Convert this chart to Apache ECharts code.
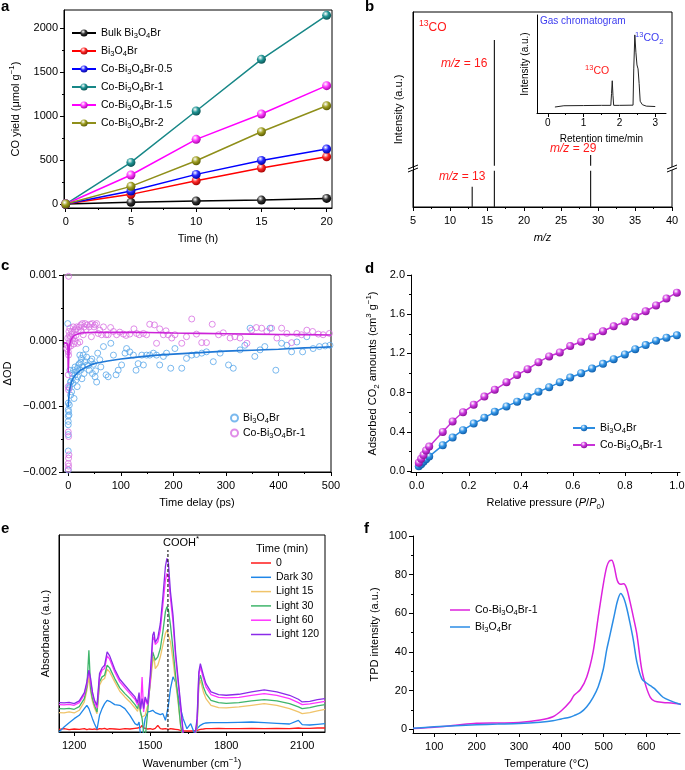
<!DOCTYPE html>
<html><head><meta charset="utf-8">
<script src="https://cdn.jsdelivr.net/npm/echarts@6/dist/echarts.min.js"></script>
<style>html,body{margin:0;padding:0;background:#fff}#c{width:685px;height:770px}</style>
</head><body><div id="c"></div>
<script>
// ================= DATA =================
// (a) CO yield vs time
const timeH = [0, 5, 10, 15, 20];
const yBulk = [0, 19, 34, 45, 64];
const yBi = [0, 110, 265, 409, 538];
const yCo05 = [0, 148, 337, 496, 625];
const yCo1 = [0, 473, 1057, 1644, 2144];
const yCo15 = [0, 330, 735, 1023, 1345];
const yCo2 = [0, 201, 492, 822, 1117];
const aTicks = [0, 500, 1000, 1500, 2000];
const aTimeTicks = [0, 5, 10, 15, 20];

// (b) mass spectrum (a.u., broken axis) and inset chromatogram
const mzPeaks = [13, 16, 29];
const mzIntensity = [10.4, 85.6, 26.7];
const breakLo = 18.6, breakHi = 21.2;
const mzTicks = [5, 10, 15, 20, 25, 30, 35, 40];
const gcTime = [0.2, 0.45, 1.0, 1.5, 1.76, 1.78, 1.8, 1.82, 1.84, 2.0, 2.38, 2.40, 2.43, 2.46, 2.49, 2.52, 2.55, 2.58, 2.64, 2.75, 3.0];
const gcSignal = [6.1, 7.4, 7.6, 7.8, 7.8, 20, 32.9, 18, 7.8, 7.8, 8.0, 45, 79.7, 62, 49, 45, 30, 12, 8.5, 7.0, 6.6];
const gcTicks = [0, 1, 2, 3];

// (c) transient absorption, ΔOD in units of 1e-4
const tBi = [-1,0,0,0,0,0,0,0,0,0.6,1.3,2,3,3,4.4,4.4,5,6.3,8,10,11,12.7,14.6,16,17,17.8,19.7,21,22,23.5,25,27,28.5,30,32,33.6,36,40,42.5,46,51,54,56,60,62,67,72,76,81,86,91,95,101.5,108,111,117,124,129,133,140,143,149,155,162,168,174,181,187,195,203,216,225,235,244,254,263,276,289,305,314,327,336,346,355,365,374,384,395,406,416,425,435,446,454,466,478,489,498,2,7,9,13,18,24,26,35,38,45,48,52];
const odBi = [2.6,-9.5,-10.5,-11.5,-12.3,-12.8,-14.3,-16.8,-19.7,-10.8,-11.3,-9.8,-6.8,-4.5,-6.3,-8.3,-6.2,-7.8,-5.7,-4.5,-8.8,-5.2,-6,-4.7,-7,-4.2,-3.7,-3.5,-2.2,-4.5,-2.7,-4,-2.2,-5,-3.2,-1.3,-3.7,-4.5,-3.1,-5,-5.5,-6.3,-1.9,-2.9,-4,-0.9,-5.2,-5.5,-0.4,-2.2,-5.2,-4.5,-3.7,-1.9,-1.2,-1.7,-2.2,-4.5,-3.5,-2.2,-3.7,-2.2,-2.2,-1.9,-2.2,-3.7,-2.4,-1.9,-4.2,-1.2,-4.2,-2.7,-2.2,-2.1,-1.9,-1.7,-3.2,-1.9,-3.7,-4.2,-1.4,-0.7,1.9,-2.4,-1.4,-0.9,1.9,-4.5,-0.4,-0.7,-1.7,-0.2,-1.7,0.6,-1.2,-0.9,-0.8,-0.7,-7.2,-5,-6.5,-4,-5.5,-3.3,-5.8,-2.5,-3.8,-2.8,-3.6,-4.6];
const tCo = [0.6,-3,-2,-1,0,0.6,1.3,2,0,0,0.6,0,0.6,1.3,0.6,0,0.6,0,3,4.4,6.3,8,9.5,11,12.7,14.6,16,17.8,19,21,22,24,25,27,28.5,30.5,32,34,36,40,42.5,44,46,49,51,54,57,60,63.5,67,72,76,80.6,86,92,98,105,110,117,125,130,135,143,149,155,164,168,174,181,186,190,197,203,216,225,235,244,254,263,274,286,295,308,317,327,340,349,358,368,378,387,397,406,416,425,435,444,454,465,476,485,497,1,2,3,5,7,10,13,15];
const odCo = [9.8,-1.2,-0.7,0.4,-1.7,-2.2,1.4,0.8,-5.2,-7,-7.5,-13.9,-14.6,-17.4,-17.9,-18.7,-19.1,-19.6,1.9,0.6,1.4,0.2,2.1,-0.5,1.6,0.8,2.1,-0.4,1.6,2.1,-0.2,2.4,1.4,2.6,0.9,2.1,2.6,1.7,2.4,2.1,2.5,0.6,2.6,2.1,2.4,2.6,1.1,1.6,0.9,2.1,0.9,0.9,2.0,1.4,0.9,1.3,1.0,0.8,1.0,1.8,1.1,0.9,1.1,0.9,2.5,2.4,-0.4,1.8,0.9,1.5,0.9,0.4,0.9,-0.4,0.6,3.3,1.0,-0.3,-0.3,2.5,0.9,1.2,0.4,0.6,0.4,-0.4,1.6,2.0,1.9,1.4,1.9,0.4,1.9,1.1,-0.3,1.1,0.9,1.6,1.4,1.0,0.9,1.1,-1.0,-0.3,0.3,-0.8,1.0,0.5,-0.1,1.8];
const fitTBi = [0, 1, 2, 3, 5, 7, 10, 15, 20, 30, 40, 50, 75, 100, 150, 200, 250, 300, 350, 400, 450, 500];
const fitBi = [-10.1, -8.8, -8.0, -7.4, -6.6, -6.1, -5.6, -5.1, -4.7, -4.2, -3.8, -3.5, -3.1, -2.8, -2.35, -2.05, -1.82, -1.6, -1.45, -1.3, -1.1, -0.95];
const fitTCo = [-8, -1, 0, 1, 2, 3, 5, 8, 12, 20, 30, 50, 100, 150, 200, 300, 400, 500];
const fitCo = [-0.3, -0.6, -4.8, -2.5, -1.2, -0.5, 0.1, 0.5, 0.8, 1.05, 1.2, 1.27, 1.27, 1.24, 1.17, 1.05, 0.95, 0.87];
const cTimeTicks = [0, 100, 200, 300, 400, 500];
const cOdTicks = [-0.002, -0.001, 0, 0.001];

// (d) CO2 adsorption isotherms
const relP = [0.008,0.017,0.026,0.036,0.048,0.10,0.138,0.178,0.219,0.26,0.30,0.345,0.386,0.426,0.468,0.509,0.55,0.59,0.632,0.674,0.716,0.757,0.80,0.84,0.88,0.92,0.96,1.0];
const adsBi = [0.05,0.07,0.096,0.12,0.15,0.263,0.342,0.417,0.485,0.544,0.605,0.66,0.708,0.759,0.81,0.855,0.906,0.954,0.998,1.046,1.094,1.142,1.19,1.244,1.285,1.33,1.36,1.385];
const adsCo = [0.085,0.126,0.164,0.21,0.25,0.40,0.506,0.60,0.677,0.76,0.83,0.906,0.98,1.04,1.11,1.17,1.21,1.275,1.32,1.37,1.426,1.477,1.525,1.573,1.63,1.69,1.76,1.82];
const dPTicks = [0, 0.2, 0.4, 0.6, 0.8, 1.0];
const dAdsTicks = [0, 0.4, 0.8, 1.2, 1.6, 2.0];

// (e) in-situ FTIR (absorbance, a.u.)
const wn = [1140,1160,1180,1200,1220,1240,1250,1258,1265,1272,1280,1290,1300,1310,1320,1330,1340,1360,1380,1400,1420,1440,1450,1456,1462,1468,1474,1480,1490,1500,1510,1515,1520,1530,1540,1550,1560,1566,1572,1580,1590,1600,1610,1620,1630,1645,1660,1675,1685,1692,1698,1710,1720,1740,1770,1800,1850,1900,1950,2000,2050,2085,2100,2130,2160,2190];
const abs0 = [8,10,7,9,8,10,7,9,10,8,9,7,10,9,11,8,10,9,8,10,9,11,12,10,14,20,12,10,9,10,8,9,11,20,10,9,10,9,8,10,9,8,7,5,4,3,3,4,5,6,8,9,10,10,11,10,10,11,10,11,10,12,11,11,12,12];
const absDark30 = [0,15,28,40,50,70,80,70,55,40,25,8,50,70,85,95,92,82,80,70,50,25,20,30,-10,-20,10,40,60,62,65,60,58,55,52,55,35,40,80,130,165,150,110,70,40,10,25,-5,10,5,20,25,27,28,28,28,29,30,28,26,24,35,22,21,23,25];
const absLight15 = [58,57,60,57,65,90,125,165,120,92,72,55,140,155,160,188,180,150,122,105,90,72,62,80,55,45,40,50,80,140,210,225,190,200,225,260,295,305,300,270,215,150,90,20,-20,-30,-30,-20,15,140,155,120,100,80,73,72,75,80,85,80,70,60,55,58,63,68];
const absLight30 = [70,69,71,68,76,100,135,245,130,100,80,60,150,165,170,200,192,160,132,115,100,82,70,90,60,40,0,-20,60,150,240,245,215,225,250,300,360,375,365,320,250,170,100,20,-20,-30,-30,-20,20,150,170,135,115,95,88,86,88,93,97,93,85,75,70,73,78,82];
const absLight60 = [82,81,83,80,88,112,145,182,150,115,90,72,165,185,190,228,218,180,150,132,115,98,82,100,70,165,60,100,80,150,275,285,262,270,305,380,455,475,465,400,330,225,150,75,-10,-30,-30,-20,30,170,195,160,135,112,104,102,104,110,115,110,100,88,82,84,88,92];
const absLight120 = [88,87,89,85,93,118,150,185,160,120,95,80,175,192,200,240,228,188,158,140,122,105,88,118,68,100,70,105,85,170,290,300,268,282,325,405,495,520,505,420,350,240,160,85,0,-30,-30,-20,40,180,205,170,145,120,112,110,113,120,126,120,110,98,90,92,97,100];
const coohWn = 1570, coohTop = 545;
const wnTicks = [1200, 1500, 1800, 2100];

// (f) CO2-TPD
const tempF = [50,100,150,200,250,300,350,380,400,420,430,445,460,475,487,499,507,513,519,525,532,540,547,554,562,570,578,590,600,610,620,640,660,682];
const tpdCo = [0.3,1.0,2.0,3.0,3.2,3.4,4.7,6.4,9.5,14,17.5,20.5,27,40,58,75,84,87,87.5,84,77,75,75.3,73,66,58,49.5,30.5,22,16.5,14.5,13.8,13.5,13];
const tpdBi = [0.4,1.2,1.8,2.3,2.6,2.9,3.6,4.3,5.3,6.2,7,8.5,11.6,16.5,22,31,41,47,53,59,66,70.2,68,63,55,46,35,26,24,22.5,21,16.5,14.5,12.7];
const tempTicks = [100, 200, 300, 400, 500, 600];
const tpdTicks = [0, 20, 40, 60, 80, 100];

// ================= HELPERS =================
const FF = '"Liberation Sans", Arial, Helvetica, sans-serif';
function richC(size, color) {
  return {
    sub: {fontSize: size * 0.72, lineHeight: 8, verticalAlign: 'bottom', fontFamily: FF, color: color},
    sup: {fontSize: size * 0.72, lineHeight: 8, verticalAlign: 'top', fontFamily: FF, color: color},
    it: {fontStyle: 'italic', fontSize: size, fontFamily: FF, color: color}
  };
}
function txt(size, color) {
  return {fontSize: size, color: color, fontFamily: FF, lineHeight: Math.round(size * 1.45), rich: richC(size, color)};
}
function richZ(size, fill) {
  return {
    sub: {fontSize: size * 0.72, lineHeight: 8, verticalAlign: 'bottom', fontFamily: FF, fill: fill},
    sup: {fontSize: size * 0.72, lineHeight: 8, verticalAlign: 'top', fontFamily: FF, fill: fill},
    it: {fontStyle: 'italic', fontSize: size, fontFamily: FF, fill: fill}
  };
}
function label(text, left, top, size, fill, extra) {
  return Object.assign({type: 'text', left: left, top: top, z: 50,
    style: {text: text, fontSize: size, fontFamily: FF, fill: fill, lineHeight: Math.round(size * 1.45), rich: richZ(size, fill)}}, extra || {});
}
const fmtName = {
  'Bi3O4Br': 'Bi{sub|3}O{sub|4}Br',
  'Bulk Bi3O4Br': 'Bulk Bi{sub|3}O{sub|4}Br',
  'Co-Bi3O4Br-0.5': 'Co-Bi{sub|3}O{sub|4}Br-0.5',
  'Co-Bi3O4Br-1': 'Co-Bi{sub|3}O{sub|4}Br-1',
  'Co-Bi3O4Br-1.5': 'Co-Bi{sub|3}O{sub|4}Br-1.5',
  'Co-Bi3O4Br-2': 'Co-Bi{sub|3}O{sub|4}Br-2'
};
function legendFmt(n) { const s = n.replace(/^[a-f]:/, ''); return fmtName[s] || s; }

const xAxes = [], yAxes = [];
function axis(list, o) {
  const idx = list.length;
  const hasMajor = !!(o.major && o.major.length);
  list.push({
    type: 'value', gridIndex: o.grid, min: o.min, max: o.max, position: o.pos,
    axisLine: {show: true, onZero: false, lineStyle: {color: '#000', width: 1}},
    axisTick: {show: hasMajor, customValues: o.major || [], length: 4, inside: false, lineStyle: {color: '#000', width: 1}},
    axisLabel: Object.assign({show: hasMajor && o.labels !== false, customValues: o.major || [], formatter: o.fmt || (v => String(v)), margin: o.margin == null ? 6 : o.margin}, txt(o.fs || 11, '#000')),
    splitLine: {show: false},
    name: o.name || '', nameLocation: 'middle', nameGap: o.nameGap || 25,
    nameTextStyle: txt(o.nfs || 11, '#000')
  });
  if (o.minor) {
    list.push({type: 'value', gridIndex: o.grid, min: o.min, max: o.max, position: o.pos,
      axisLine: {show: false, onZero: false}, axisTick: {show: true, customValues: o.minor, length: 2, lineStyle: {color: '#000', width: 1}},
      axisLabel: {show: false}, splitLine: {show: false}});
  }
  return idx;
}
function sphere(c, dark) {
  return {type: 'radial', x: 0.38, y: 0.32, r: 0.72, colorStops: [{offset: 0, color: '#ffffff'}, {offset: 0.45, color: c}, {offset: 1, color: dark}]};
}
const zip = (xs, ys, k) => xs.map((x, i) => [x, ys[i] * (k || 1)]);

// ================= GRIDS =================
const grids = [
  {left: 64, top: 10, width: 268, height: 198, show: true, borderColor: '#000', borderWidth: 1, backgroundColor: 'transparent'},
  {left: 413, top: 12, width: 259, height: 195, show: true, borderColor: '#000', borderWidth: 1, backgroundColor: 'transparent'},
  {left: 537, top: 15, width: 129, height: 98},
  {left: 63, top: 275, width: 268, height: 197, show: true, borderColor: '#000', borderWidth: 1, backgroundColor: 'transparent'},
  {left: 411, top: 275, width: 269, height: 197},
  {left: 59, top: 535, width: 266, height: 197, show: true, borderColor: '#000', borderWidth: 1, backgroundColor: 'transparent'},
  {left: 413, top: 536, width: 267, height: 197}
].map(g => Object.assign({outerBoundsMode: 'none', containLabel: false}, g));

// axes
const axA = axis(xAxes, {grid: 0, min: -0.13, max: 20.41, major: aTimeTicks, minor: [2.5, 7.5, 12.5, 17.5], name: 'Time (h)', nameGap: 22, pos: 'bottom'});
const ayA = axis(yAxes, {grid: 0, min: -45, max: 2205, major: aTicks, minor: [250, 750, 1250, 1750], name: 'CO yield (μmol g{sup|−1})', nameGap: 40, pos: 'left'});
const axB = axis(xAxes, {grid: 1, min: 5, max: 40, major: mzTicks, minor: [7.5, 12.5, 17.5, 22.5, 27.5, 32.5, 37.5], name: '{it|m/z}', nameGap: 22, pos: 'bottom'});
const ayB = axis(yAxes, {grid: 1, min: 0, max: 100, name: 'Intensity (a.u.)', nameGap: 6, pos: 'left'});
const axBi = axis(xAxes, {grid: 2, min: -0.3, max: 3.3, major: gcTicks, minor: [0.5, 1.5, 2.5], name: 'Retention time/min', nameGap: 10, fs: 10, nfs: 10, margin: 3, pos: 'bottom'});
const ayBi = axis(yAxes, {grid: 2, min: 0, max: 100, name: 'Intensity (a.u.)', nameGap: 4, nfs: 10, pos: 'left'});
const axC = axis(xAxes, {grid: 3, min: -10, max: 500, major: cTimeTicks, minor: [50, 150, 250, 350, 450], name: 'Time delay (ps)', nameGap: 23, pos: 'bottom'});
const ayC = axis(yAxes, {grid: 3, min: -0.002, max: 0.001, major: cOdTicks, minor: [-0.0015, -0.0005, 0.0005], name: 'ΔOD', nameGap: 47, pos: 'left',
  fmt: v => (v < -1e-9 ? '−' : '') + Math.abs(v).toFixed(3)});
const axD = axis(xAxes, {grid: 4, min: -0.022, max: 1.012, major: dPTicks, minor: [0.1, 0.3, 0.5, 0.7, 0.9], name: 'Relative pressure ({it|P}/{it|P}{sub|0})', nameGap: 23, pos: 'bottom', fmt: v => v.toFixed(1)});
const ayD = axis(yAxes, {grid: 4, min: -0.009, max: 2.0, major: dAdsTicks, minor: [0.2, 0.6, 1.0, 1.4, 1.8], name: 'Adsorbed CO{sub|2} amounts (cm{sup|3} g{sup|−1})', nameGap: 30, pos: 'left', fmt: v => v.toFixed(1)});
const axE = axis(xAxes, {grid: 5, min: 1140, max: 2190, major: wnTicks, minor: [1350, 1650, 1950], name: 'Wavenumber (cm{sup|−1})', nameGap: 24, pos: 'bottom'});
const ayE = axis(yAxes, {grid: 5, min: 0, max: 590, name: 'Absorbance (a.u.)', nameGap: 5, pos: 'left'});
const axF = axis(xAxes, {grid: 6, min: 50, max: 680, major: tempTicks, minor: [150, 250, 350, 450, 550, 650], name: 'Temperature (°C)', nameGap: 22, pos: 'bottom'});
const ayF = axis(yAxes, {grid: 6, min: -2, max: 100, major: tpdTicks, minor: [10, 30, 50, 70, 90], name: 'TPD intensity (a.u.)', nameGap: 30, pos: 'left'});

// ================= SERIES =================
const series = [];
const aDefs = [
  ['a:Bulk Bi3O4Br', yBulk, '#000000', '#333333', '#000000'],
  ['a:Bi3O4Br', yBi, '#ff0000', '#ff2a2a', '#a00000'],
  ['a:Co-Bi3O4Br-0.5', yCo05, '#0000ff', '#2a2aff', '#00009a'],
  ['a:Co-Bi3O4Br-1', yCo1, '#178787', '#1f9494', '#0a4e4e'],
  ['a:Co-Bi3O4Br-1.5', yCo15, '#ff00ff', '#ff3cff', '#a000a0'],
  ['a:Co-Bi3O4Br-2', yCo2, '#8f8f1a', '#a0a024', '#565600']
];
aDefs.forEach(d => series.push({type: 'line', name: d[0], xAxisIndex: axA, yAxisIndex: ayA, data: zip(timeH, d[1]),
  symbol: 'circle', symbolSize: 9, showSymbol: true, lineStyle: {color: d[2], width: 1.5},
  itemStyle: {color: sphere(d[3], d[4])}, z: 3}));

// (b) sticks with break
const stick = [];
mzPeaks.forEach((m, i) => {
  const h = mzIntensity[i];
  if (h > breakHi) stick.push([m, 0], [m, breakLo], [m, '-'], [m, breakHi], [m, h], [m, '-']);
  else stick.push([m, 0], [m, h], [m, '-']);
});
series.push({type: 'line', name: 'b:ms', xAxisIndex: axB, yAxisIndex: ayB, data: stick, symbol: 'none', connectNulls: false,
  lineStyle: {color: '#222', width: 1.2}});
series.push({type: 'line', name: 'b:gc', xAxisIndex: axBi, yAxisIndex: ayBi, data: zip(gcTime, gcSignal), symbol: 'none',
  lineStyle: {color: '#222', width: 1}});

// (c)
series.push({type: 'scatter', name: 'c:Bi3O4Br', xAxisIndex: axC, yAxisIndex: ayC, data: zip(tBi, odBi, 1e-4), symbol: 'circle', symbolSize: 6,
  itemStyle: {color: 'rgba(0,0,0,0)', borderColor: '#5aa7ea', borderWidth: 1}});
series.push({type: 'scatter', name: 'c:Co-Bi3O4Br-1', xAxisIndex: axC, yAxisIndex: ayC, data: zip(tCo, odCo, 1e-4), symbol: 'circle', symbolSize: 6,
  itemStyle: {color: 'rgba(0,0,0,0)', borderColor: '#d870e2', borderWidth: 1}});
series.push({type: 'line', name: 'c:fitBi', xAxisIndex: axC, yAxisIndex: ayC, data: zip(fitTBi, fitBi, 1e-4), symbol: 'none', smooth: 0.3,
  lineStyle: {color: '#1f78d6', width: 1.6}, z: 4});
series.push({type: 'line', name: 'c:fitCo', xAxisIndex: axC, yAxisIndex: ayC, data: zip(fitTCo, fitCo, 1e-4), symbol: 'none', smooth: 0.3,
  lineStyle: {color: '#cc22d8', width: 1.6}, z: 4});

// (d)
series.push({type: 'line', name: 'd:Bi3O4Br', xAxisIndex: axD, yAxisIndex: ayD, data: zip(relP, adsBi), symbol: 'circle', symbolSize: 8, smooth: 0.2,
  lineStyle: {color: '#2b8ce0', width: 1.5}, itemStyle: {color: sphere('#3396e8', '#0d5aa6')}});
series.push({type: 'line', name: 'd:Co-Bi3O4Br-1', xAxisIndex: axD, yAxisIndex: ayD, data: zip(relP, adsCo), symbol: 'circle', symbolSize: 8, smooth: 0.2,
  lineStyle: {color: '#c832d8', width: 1.5}, itemStyle: {color: sphere('#cf3ce0', '#860c96')}});

// (e)
const eDefs = [
  ['e:0', abs0, '#ff1a1a'],
  ['e:Dark 30', absDark30, '#1f86e8'],
  ['e:Light 15', absLight15, '#f0c46a'],
  ['e:Light 30', absLight30, '#3fb56b'],
  ['e:Light 60', absLight60, '#ff33ff'],
  ['e:Light 120', absLight120, '#8a2be8']
];
eDefs.forEach(d => series.push({type: 'line', name: d[0], xAxisIndex: axE, yAxisIndex: ayE, data: zip(wn, d[1]), symbol: 'none',
  clip: true, lineStyle: {color: d[2], width: 1.3}, itemStyle: {color: d[2]}}));
series.push({type: 'line', name: 'e:cooh', xAxisIndex: axE, yAxisIndex: ayE, data: [[coohWn, 0], [coohWn, coohTop]], symbol: 'none',
  lineStyle: {color: '#222', width: 1.2, type: [3, 2]}, z: 5});

// (f)
series.push({type: 'line', name: 'f:Co-Bi3O4Br-1', xAxisIndex: axF, yAxisIndex: ayF, data: zip(tempF, tpdCo), symbol: 'none', smooth: 0.3,
  lineStyle: {color: '#dd22dd', width: 1.5}, itemStyle: {color: '#dd22dd'}});
series.push({type: 'line', name: 'f:Bi3O4Br', xAxisIndex: axF, yAxisIndex: ayF, data: zip(tempF, tpdBi), symbol: 'none', smooth: 0.3,
  lineStyle: {color: '#2b8de6', width: 1.5}, itemStyle: {color: '#2b8de6'}});

// ================= LEGENDS =================
function legend(o) {
  return Object.assign({orient: 'vertical', formatter: legendFmt, selectedMode: false, padding: 0,
    textStyle: Object.assign(txt(10.5, '#000'), {lineHeight: 14})}, o);
}
const legends = [
  legend({data: aDefs.map(d => d[0]), left: 71, top: 26, itemWidth: 24, itemHeight: 9, itemGap: 4}),
  legend({data: ['c:Bi3O4Br', 'c:Co-Bi3O4Br-1'], left: 230, top: 411, itemWidth: 7, itemHeight: 7, itemGap: 1}),
  legend({data: ['d:Bi3O4Br', 'd:Co-Bi3O4Br-1'], left: 572, top: 421, itemWidth: 22, itemHeight: 8, itemGap: 3}),
  legend({data: eDefs.map(d => d[0]), left: 251, top: 556, icon: 'rect', itemWidth: 20, itemHeight: 1.5, itemGap: 0.3}),
  legend({data: ['f:Co-Bi3O4Br-1', 'f:Bi3O4Br'], left: 450, top: 603, icon: 'rect', itemWidth: 20, itemHeight: 1.5, itemGap: 3})
];

// ================= TEXT / DECORATION =================
const RED = '#ff1a1a', BLU = '#3b3bf0';
function breakMark(x, y) {
  return {type: 'group', x: x, y: y, z: 60, children: [
    {type: 'polygon', shape: {points: [[-5, 1], [5, -3], [5, 0], [-5, 4]]}, style: {fill: '#fff'}},
    {type: 'line', shape: {x1: -5, y1: 1, x2: 5, y2: -3}, style: {stroke: '#000', lineWidth: 1}},
    {type: 'line', shape: {x1: -5, y1: 4, x2: 5, y2: 0}, style: {stroke: '#000', lineWidth: 1}}
  ]};
}
function letter(t, left, top) {
  return {type: 'text', left: left, top: top, z: 50, style: {text: t, font: 'bold 15px ' + FF, fill: '#000'}};
}
const graphics = [
  letter('a', 1, -1), letter('b', 365, -1), letter('c', 1, 258),
  letter('d', 365, 261), letter('e', 1, 521), letter('f', 364, 521),
  label('{sup|13}CO', 419, 19, 12, RED),
  label('{it|m/z} = 16', 441, 55, 12, RED),
  label('{it|m/z} = 13', 439, 168, 12, RED),
  label('{it|m/z} = 29', 550, 140, 12, RED),
  label('Gas chromatogram', 540, 14, 10, BLU),
  label('{sup|13}CO{sub|2}', 635, 31, 10.5, BLU),
  label('{sup|13}CO', 585, 64, 10.5, RED),
  label('Time (min)', 256, 541, 11, '#000'),
  label('COOH{sup|*}', 163, 535, 11, '#000'),
  breakMark(413, 168), breakMark(672, 168)
];

const chart = echarts.init(document.getElementById('c'), null, {renderer: 'canvas'});
chart.setOption({
  animation: false,
  backgroundColor: '#fff',
  textStyle: {fontFamily: FF},
  grid: grids, xAxis: xAxes, yAxis: yAxes, series: series, legend: legends, graphic: graphics
});
</script></body></html>
